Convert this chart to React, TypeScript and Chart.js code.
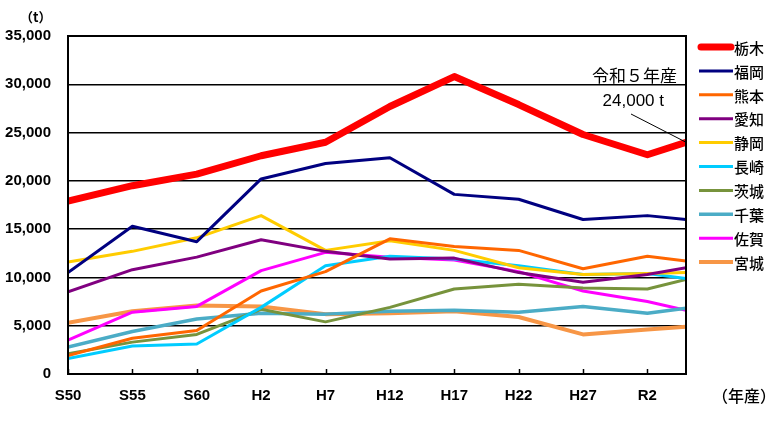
import React, { useEffect, useRef } from "react";
import { Chart, registerables } from "chart.js";

Chart.register(...registerables);

// ---- data ----
const years = [1975, 1980, 1985, 1990, 1995, 2000, 2005, 2010, 2015, 2020, 2023];
const tickYears = [1975, 1980, 1985, 1990, 1995, 2000, 2005, 2010, 2015, 2020];
const tickLabels = ["S50", "S55", "S60", "H2", "H7", "H12", "H17", "H22", "H27", "R2"];
const yTicks = [0, 5000, 10000, 15000, 20000, 25000, 30000, 35000];

const prefectures = ["栃木", "福岡", "熊本", "愛知", "静岡", "長崎", "茨城", "千葉", "佐賀", "宮城"];
const tochigi = [17900, 19500, 20700, 22600, 24000, 27700, 30800, 27900, 24800, 22700, 24000];
const fukuoka = [10500, 15300, 13700, 20200, 21800, 22400, 18600, 18100, 16000, 16400, 16000];
const kumamoto = [1900, 3700, 4500, 8600, 10600, 14000, 13200, 12800, 10900, 12200, 11700];
const aichi = [8500, 10800, 12100, 13900, 12700, 11900, 12000, 10500, 9500, 10300, 11000];
const shizuoka = [11600, 12700, 14100, 16400, 12800, 13800, 12800, 11000, 10300, 10400, 10500];
const nagasaki = [1600, 2900, 3100, 6900, 11200, 12200, 11900, 11200, 10300, 10400, 9900];
const ibaraki = [2100, 3300, 4100, 6700, 5400, 6900, 8800, 9300, 8900, 8800, 9800];
const chiba = [2800, 4400, 5700, 6300, 6200, 6500, 6600, 6400, 7000, 6300, 6800];
const saga = [3500, 6400, 7000, 10700, 12600, 12100, 11800, 10600, 8600, 7500, 6600];
const miyagi = [5300, 6500, 7100, 7000, 6200, 6300, 6500, 5900, 4100, 4600, 4900];

const seriesValues = [tochigi, fukuoka, kumamoto, aichi, shizuoka, nagasaki, ibaraki, chiba, saga, miyagi];
const seriesColors = ["#FF0000", "#000080", "#FF6600", "#800080", "#FFCC00", "#00CCFF", "#77933C", "#4BACC6", "#FF00FF", "#F79646"];
const seriesWidths = [7, 3, 3, 3, 3, 3, 3, 3.5, 3, 4];

const latestLabel = "令和５年産";
const latestValueLabel = "24,000 t";
const latestYear = 2023;
const latestValue = 24000;
const yUnit = "（t）";
const xUnit = "（年産）";

const LATIN = "'Liberation Sans', Arial, sans-serif";
const JP = "'Noto Sans CJK JP', sans-serif";

const overlayPlugin = {
  id: "overlay",
  afterDraw(chart: any) {
    const { ctx, chartArea, scales } = chart;
    const xs = scales.x;
    const ys = scales.y;
    ctx.save();
    // frame
    ctx.strokeStyle = "#000";
    ctx.lineWidth = 2;
    ctx.strokeRect(chartArea.left, chartArea.top, chartArea.right - chartArea.left, chartArea.bottom - chartArea.top);
    // x tick marks pointing up
    ctx.lineWidth = 1.5;
    tickYears.forEach((v) => {
      const px = Math.round(xs.getPixelForValue(v)) + 0.5;
      ctx.beginPath();
      ctx.moveTo(px, chartArea.bottom);
      ctx.lineTo(px, chartArea.bottom - 5);
      ctx.stroke();
    });
    // units
    ctx.fillStyle = "#000";
    ctx.textBaseline = "middle";
    ctx.textAlign = "left";
    ctx.font = `bold 13px ${JP}`;
    ctx.fillText(yUnit, 20, 17);
    ctx.font = `500 16px ${JP}`;
    ctx.fillText(xUnit, 712, 396);
    // annotation
    ctx.textAlign = "right";
    ctx.font = `17px ${JP}`;
    ctx.fillText(latestLabel, 677, 76);
    ctx.font = `17px ${LATIN}`;
    ctx.fillText(latestValueLabel, 664, 101);
    const ex = xs.getPixelForValue(latestYear);
    const ey = ys.getPixelForValue(latestValue);
    ctx.lineWidth = 1;
    ctx.beginPath();
    ctx.moveTo(631, 114);
    ctx.lineTo(ex, ey);
    ctx.stroke();
    // legend
    ctx.textAlign = "left";
    ctx.font = `500 15px ${JP}`;
    chart.data.datasets.forEach((ds: any, i: number) => {
      const y = 47 + i * 23.9;
      ctx.strokeStyle = ds.borderColor;
      ctx.lineWidth = ds.borderWidth;
      ctx.lineCap = i === 0 ? "round" : "butt";
      ctx.beginPath();
      ctx.moveTo(i === 0 ? 701 : 699, y);
      ctx.lineTo(i === 0 ? 731 : 733, y);
      ctx.stroke();
      ctx.fillStyle = "#000";
      ctx.fillText(ds.label, 734, y + 1);
    });
    ctx.restore();
  },
};

export default function App() {
  const ref = useRef<HTMLCanvasElement | null>(null);
  useEffect(() => {
    if (!ref.current) return;
    const datasets = prefectures.map((name, i) => ({
      label: name,
      data: years.map((yr, j) => ({ x: yr, y: seriesValues[i][j] })),
      borderColor: seriesColors[i],
      backgroundColor: seriesColors[i],
      borderWidth: seriesWidths[i],
      pointRadius: 0,
      tension: 0,
      fill: false,
      borderJoinStyle: "round" as const,
    }));
    const chart = new Chart(ref.current, {
      type: "line",
      data: { datasets },
      options: {
        responsive: false,
        animation: false,
        layout: { padding: { left: 0, top: 36, right: 92, bottom: 0 } },
        plugins: { legend: { display: false }, tooltip: { enabled: false } },
        scales: {
          x: {
            type: "linear",
            min: 1975,
            max: 2023,
            afterBuildTicks: (s: any) => {
              s.ticks = tickYears.map((v) => ({ value: v }));
            },
            afterFit: (s: any) => {
              s.height = 50;
            },
            grid: { display: false, drawTicks: false },
            border: { display: true, color: "#000", width: 2 },
            ticks: {
              padding: 13,
              color: "#000",
              font: { family: LATIN, size: 15, weight: "bold" },
              maxRotation: 0,
              autoSkip: false,
              callback: (v: any) => {
                const k = tickYears.indexOf(Number(v));
                return k >= 0 ? tickLabels[k] : "";
              },
            },
          },
          y: {
            min: 0,
            max: 35000,
            afterBuildTicks: (s: any) => {
              s.ticks = yTicks.map((v) => ({ value: v }));
            },
            afterFit: (s: any) => {
              s.width = 68;
            },
            grid: { color: "#000", lineWidth: 1.5, drawTicks: false },
            border: { display: true, color: "#000", width: 2 },
            ticks: {
              padding: 17,
              color: "#000",
              font: { family: LATIN, size: 15, weight: "bold" },
              callback: (v: any) => Number(v).toLocaleString("en-US"),
            },
          },
        },
      },
      plugins: [overlayPlugin],
    });
    return () => chart.destroy();
  }, []);
  return (
    <div style={{ position: "absolute", left: 0, top: 0, width: 778, height: 424, background: "#fff" }}>
      <canvas ref={ref} width={778} height={424} style={{ display: "block" }} />
    </div>
  );
}
